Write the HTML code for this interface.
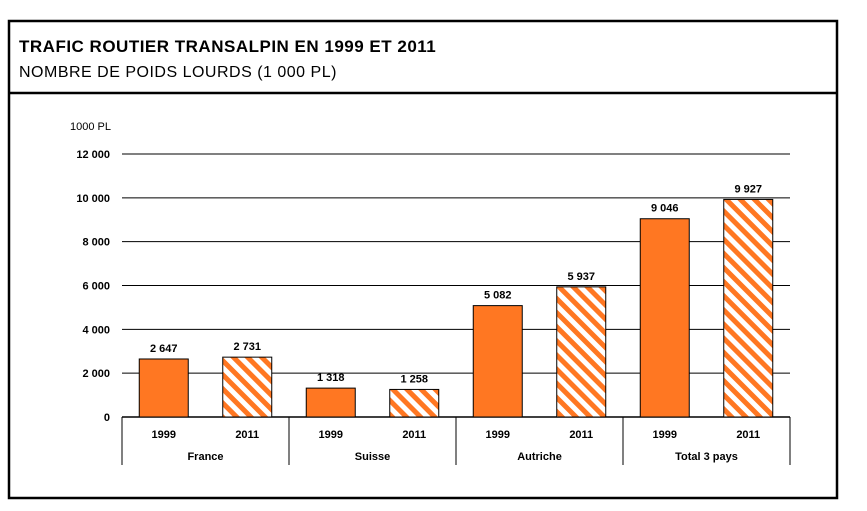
<!DOCTYPE html>
<html><head><meta charset="utf-8"><style>
body{margin:0;background:#fff;width:867px;height:511px;overflow:hidden;font-family:"Liberation Sans",sans-serif}
svg{position:absolute;left:0;top:0}
</style></head><body>
<svg width="867" height="511" font-family="Liberation Sans, sans-serif">
<defs>
<pattern id="hatch" patternUnits="userSpaceOnUse" width="10" height="10" patternTransform="rotate(-45)">
<rect width="10" height="10" fill="#fff"/><rect width="5" height="10" fill="#ff7722"/>
</pattern>
</defs>
<rect x="9" y="21" width="828" height="477" fill="none" stroke="#000" stroke-width="2.5"/>
<line x1="9" y1="93" x2="837" y2="93" stroke="#000" stroke-width="2.5"/>
<text x="19" y="52" font-size="17" font-weight="bold" letter-spacing="0.5">TRAFIC ROUTIER TRANSALPIN EN 1999 ET 2011</text>
<text x="19" y="77" font-size="16" letter-spacing="0.5">NOMBRE DE POIDS LOURDS (1 000 PL)</text>
<text x="70" y="130" font-size="11">1000 PL</text>
<g id="axis"></g>
<g id="bars"></g>
</svg>
<script>
const groups=['France','Suisse','Autriche','Total 3 pays'];
const years=['1999','2011'];
const values1999=[2647,1318,5082,9046];
const values2011=[2731,1258,5937,9927];
const valueLabels1999=['2 647','1 318','5 082','9 046'];
const valueLabels2011=['2 731','1 258','5 937','9 927'];
const yTicks=[0,2000,4000,6000,8000,10000,12000];
const yTickLabels=['0','2 000','4 000','6 000','8 000','10 000','12 000'];
const NS='http://www.w3.org/2000/svg';
const x0=122,x1=790,y0=417,yTop=154,yMax=12000;
const y=v=>y0-(v/yMax)*(y0-yTop);
const gw=(x1-x0)/groups.length;
function mk(tag,attrs,parent,txt){const e=document.createElementNS(NS,tag);for(const k in attrs)e.setAttribute(k,attrs[k]);if(txt!==undefined)e.textContent=txt;parent.appendChild(e);return e;}
const ax=document.getElementById('axis'),bg=document.getElementById('bars');
yTicks.forEach((t,i)=>{
  if(t>0){const l=mk('line',{x1:x0,x2:x1,y1:y(t),y2:y(t),stroke:'#000','stroke-width':1},ax);
  
  }
  const tx=mk('text',{x:110,y:y(t)+4,'font-size':11,'font-weight':'bold','text-anchor':'end'},ax,yTickLabels[i]);
  
  
});
const base=mk('line',{x1:x0,x2:x1,y1:y0,y2:y0,stroke:'#000','stroke-width':1.5},ax);


for(let g=0;g<=groups.length;g++){
  const d=mk('line',{x1:x0+g*gw,x2:x0+g*gw,y1:y0,y2:465,stroke:'#000','stroke-width':1},ax);
  
  
}
groups.forEach((name,g)=>{
  const gl=mk('text',{x:x0+g*gw+gw/2,y:460,'font-size':11,'font-weight':'bold','text-anchor':'middle'},ax,name);
  
  
  [values1999,values2011].forEach((vals,s)=>{
    const cx=x0+g*gw+gw/4+s*gw/2,bw=49,v=vals[g];
    const r=mk('rect',{x:cx-bw/2,y:y(v),width:bw,height:y0-y(v),fill:s?'url(#hatch)':'#ff7722',stroke:'#000','stroke-width':1},bg);
    
    
    const vl=mk('text',{x:cx,y:y(v)-7,'font-size':11,'font-weight':'bold','text-anchor':'middle'},bg,(s?valueLabels2011:valueLabels1999)[g]);
    
    
    const yl=mk('text',{x:cx,y:438,'font-size':11,'font-weight':'bold','text-anchor':'middle'},ax,years[s]);
    
    
  });
});
</script>
</body></html>
